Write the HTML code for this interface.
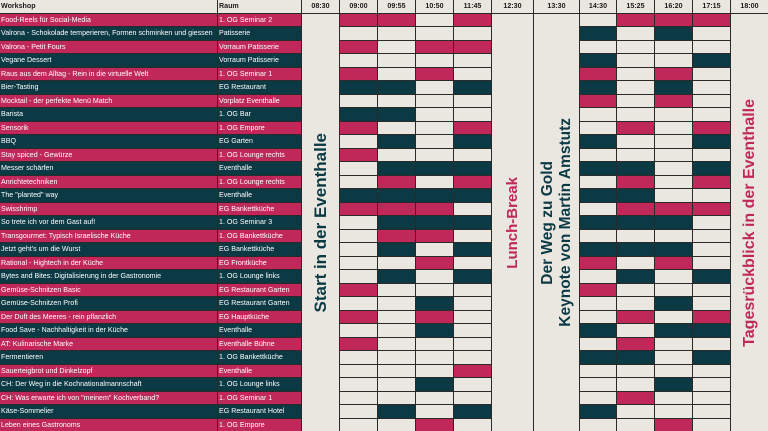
<!DOCTYPE html>
<html><head><meta charset="utf-8"><style>
html,body{margin:0;padding:0;background:#e9e7e0;}
.g{position:relative;width:768px;height:431px;display:grid;
grid-template-columns:217px 83px 37px 37px 37px 37px 37px 41px 45px 36px 37px 37px 37px 37px;
grid-template-rows:13px repeat(31,1fr);gap:1px;background:#2a2a2a;box-sizing:border-box;
font-family:"Liberation Sans",sans-serif;font-size:7.1px;overflow:hidden;}
.g>div{overflow:hidden;white-space:nowrap;line-height:12px;min-width:0;}
.h{background:#e9e7e0;color:#1a1a1a;font-weight:bold;text-align:center;}
.hl{text-align:left;padding-left:1px;}
.R{background:#c0285a;}
.D{background:#0b3a45;}
.L{background:#e9e7e0;}
.t{color:#fff;padding-left:1px;}
.g>.m{background:#e9e7e0;display:flex;align-items:center;justify-content:center;font-weight:bold;overflow:visible;}
.v{writing-mode:vertical-rl;transform:rotate(180deg);white-space:nowrap;text-align:center;}
</style></head><body>
<div class="g">
<div class="h hl">Workshop</div><div class="h hl">Raum</div><div class="h">08:30</div><div class="h">09:00</div><div class="h">09:55</div><div class="h">10:50</div><div class="h">11:45</div><div class="h">12:30</div><div class="h">13:30</div><div class="h">14:30</div><div class="h">15:25</div><div class="h">16:20</div><div class="h">17:15</div><div class="h">18:00</div>
<div class="m" style="grid-column:3;grid-row:2/span 31"><div class="v" style="color:#0b3a45;font-size:17px;">Start in der Eventhalle</div></div>
<div class="m" style="grid-column:8;grid-row:2/span 31"><div class="v" style="color:#c0285a;font-size:15px;">Lunch-Break</div></div>
<div class="m" style="grid-column:9;grid-row:2/span 31"><div class="v" style="color:#0b3a45;font-size:15.5px;line-height:18px;">Der Weg zu Gold<br>Keynote von Martin Amstutz</div></div>
<div class="m" style="grid-column:14;grid-row:2/span 31"><div class="v" style="color:#c0285a;font-size:16px;">Tagesrückblick in der Eventhalle</div></div>

<div class="R t">Food-Reels für Social-Media</div><div class="R t">1. OG Seminar 2</div><div class="R"></div><div class="R"></div><div class="L"></div><div class="R"></div><div class="L"></div><div class="R"></div><div class="R"></div><div class="R"></div>
<div class="D t">Valrona - Schokolade temperieren, Formen schminken und giessen</div><div class="D t">Patisserie</div><div class="L"></div><div class="L"></div><div class="L"></div><div class="L"></div><div class="D"></div><div class="L"></div><div class="D"></div><div class="L"></div>
<div class="R t">Valrona - Petit Fours</div><div class="R t">Vorraum Patisserie</div><div class="R"></div><div class="L"></div><div class="R"></div><div class="R"></div><div class="L"></div><div class="L"></div><div class="L"></div><div class="L"></div>
<div class="D t">Vegane Dessert</div><div class="D t">Vorraum Patisserie</div><div class="L"></div><div class="L"></div><div class="L"></div><div class="L"></div><div class="D"></div><div class="L"></div><div class="L"></div><div class="D"></div>
<div class="R t">Raus aus dem Alltag - Rein in die virtuelle Welt</div><div class="R t">1. OG Seminar 1</div><div class="R"></div><div class="L"></div><div class="R"></div><div class="L"></div><div class="R"></div><div class="L"></div><div class="R"></div><div class="L"></div>
<div class="D t">Bier-Tasting</div><div class="D t">EG Restaurant</div><div class="D"></div><div class="D"></div><div class="L"></div><div class="D"></div><div class="D"></div><div class="L"></div><div class="D"></div><div class="L"></div>
<div class="R t">Mocktail - der perfekte Menü Match</div><div class="R t">Vorplatz Eventhalle</div><div class="L"></div><div class="L"></div><div class="L"></div><div class="L"></div><div class="R"></div><div class="L"></div><div class="R"></div><div class="L"></div>
<div class="D t">Barista</div><div class="D t">1. OG Bar</div><div class="D"></div><div class="D"></div><div class="L"></div><div class="L"></div><div class="L"></div><div class="L"></div><div class="L"></div><div class="L"></div>
<div class="R t">Sensorik</div><div class="R t">1. OG Empore</div><div class="R"></div><div class="L"></div><div class="L"></div><div class="R"></div><div class="L"></div><div class="R"></div><div class="L"></div><div class="R"></div>
<div class="D t">BBQ</div><div class="D t">EG Garten</div><div class="L"></div><div class="D"></div><div class="L"></div><div class="D"></div><div class="D"></div><div class="L"></div><div class="L"></div><div class="D"></div>
<div class="R t">Stay spiced - Gewürze</div><div class="R t">1. OG Lounge rechts</div><div class="R"></div><div class="L"></div><div class="L"></div><div class="L"></div><div class="L"></div><div class="L"></div><div class="L"></div><div class="L"></div>
<div class="D t">Messer schärfen</div><div class="D t">Eventhalle</div><div class="L"></div><div class="D"></div><div class="D"></div><div class="D"></div><div class="D"></div><div class="D"></div><div class="L"></div><div class="D"></div>
<div class="R t">Anrichtetechniken</div><div class="R t">1. OG Lounge rechts</div><div class="L"></div><div class="R"></div><div class="L"></div><div class="R"></div><div class="L"></div><div class="R"></div><div class="L"></div><div class="R"></div>
<div class="D t">The "planted" way</div><div class="D t">Eventhalle</div><div class="D"></div><div class="D"></div><div class="D"></div><div class="D"></div><div class="D"></div><div class="D"></div><div class="L"></div><div class="L"></div>
<div class="R t">Swisshrimp</div><div class="R t">EG Bankettküche</div><div class="R"></div><div class="R"></div><div class="R"></div><div class="L"></div><div class="L"></div><div class="R"></div><div class="R"></div><div class="R"></div>
<div class="D t">So trete ich vor dem Gast auf!</div><div class="D t">1. OG Seminar 3</div><div class="L"></div><div class="D"></div><div class="D"></div><div class="D"></div><div class="D"></div><div class="D"></div><div class="D"></div><div class="L"></div>
<div class="R t">Transgourmet: Typisch Israelische Küche</div><div class="R t">1. OG Bankettküche</div><div class="L"></div><div class="R"></div><div class="R"></div><div class="L"></div><div class="L"></div><div class="L"></div><div class="L"></div><div class="L"></div>
<div class="D t">Jetzt geht's um die Wurst</div><div class="D t">EG Bankettküche</div><div class="L"></div><div class="D"></div><div class="L"></div><div class="D"></div><div class="D"></div><div class="D"></div><div class="D"></div><div class="L"></div>
<div class="R t">Rational - Hightech in der Küche</div><div class="R t">EG Frontküche</div><div class="L"></div><div class="L"></div><div class="R"></div><div class="L"></div><div class="R"></div><div class="L"></div><div class="R"></div><div class="L"></div>
<div class="D t">Bytes and Bites: Digitalisierung in der Gastronomie</div><div class="D t">1. OG Lounge links</div><div class="L"></div><div class="D"></div><div class="L"></div><div class="D"></div><div class="L"></div><div class="D"></div><div class="L"></div><div class="D"></div>
<div class="R t">Gemüse-Schnitzen Basic</div><div class="R t">EG Restaurant Garten</div><div class="R"></div><div class="L"></div><div class="L"></div><div class="L"></div><div class="R"></div><div class="L"></div><div class="L"></div><div class="L"></div>
<div class="D t">Gemüse-Schnitzen Profi</div><div class="D t">EG Restaurant Garten</div><div class="L"></div><div class="L"></div><div class="D"></div><div class="L"></div><div class="L"></div><div class="L"></div><div class="D"></div><div class="L"></div>
<div class="R t">Der Duft des Meeres - rein pflanzlich</div><div class="R t">EG Hauptküche</div><div class="R"></div><div class="L"></div><div class="R"></div><div class="L"></div><div class="L"></div><div class="R"></div><div class="L"></div><div class="R"></div>
<div class="D t">Food Save - Nachhaltigkeit in der Küche</div><div class="D t">Eventhalle</div><div class="L"></div><div class="L"></div><div class="D"></div><div class="L"></div><div class="D"></div><div class="L"></div><div class="D"></div><div class="D"></div>
<div class="R t">AT: Kulinarische Marke</div><div class="R t">Eventhalle Bühne</div><div class="R"></div><div class="L"></div><div class="L"></div><div class="L"></div><div class="L"></div><div class="R"></div><div class="L"></div><div class="L"></div>
<div class="D t">Fermentieren</div><div class="D t">1. OG Bankettküche</div><div class="L"></div><div class="L"></div><div class="L"></div><div class="L"></div><div class="D"></div><div class="D"></div><div class="L"></div><div class="D"></div>
<div class="R t">Sauerteigbrot und Dinkelzopf</div><div class="R t">Eventhalle</div><div class="L"></div><div class="L"></div><div class="L"></div><div class="R"></div><div class="L"></div><div class="L"></div><div class="L"></div><div class="L"></div>
<div class="D t">CH: Der Weg in die Kochnationalmannschaft</div><div class="D t">1. OG Lounge links</div><div class="L"></div><div class="L"></div><div class="D"></div><div class="L"></div><div class="L"></div><div class="L"></div><div class="D"></div><div class="L"></div>
<div class="R t">CH: Was erwarte ich von "meinem" Kochverband?</div><div class="R t">1. OG Seminar 1</div><div class="L"></div><div class="L"></div><div class="L"></div><div class="L"></div><div class="L"></div><div class="R"></div><div class="L"></div><div class="L"></div>
<div class="D t">Käse-Sommelier</div><div class="D t">EG Restaurant Hotel</div><div class="L"></div><div class="D"></div><div class="L"></div><div class="D"></div><div class="D"></div><div class="L"></div><div class="L"></div><div class="L"></div>
<div class="R t">Leben eines Gastronoms</div><div class="R t">1. OG Empore</div><div class="L"></div><div class="L"></div><div class="R"></div><div class="L"></div><div class="L"></div><div class="L"></div><div class="R"></div><div class="L"></div>
</div>
</body></html>
